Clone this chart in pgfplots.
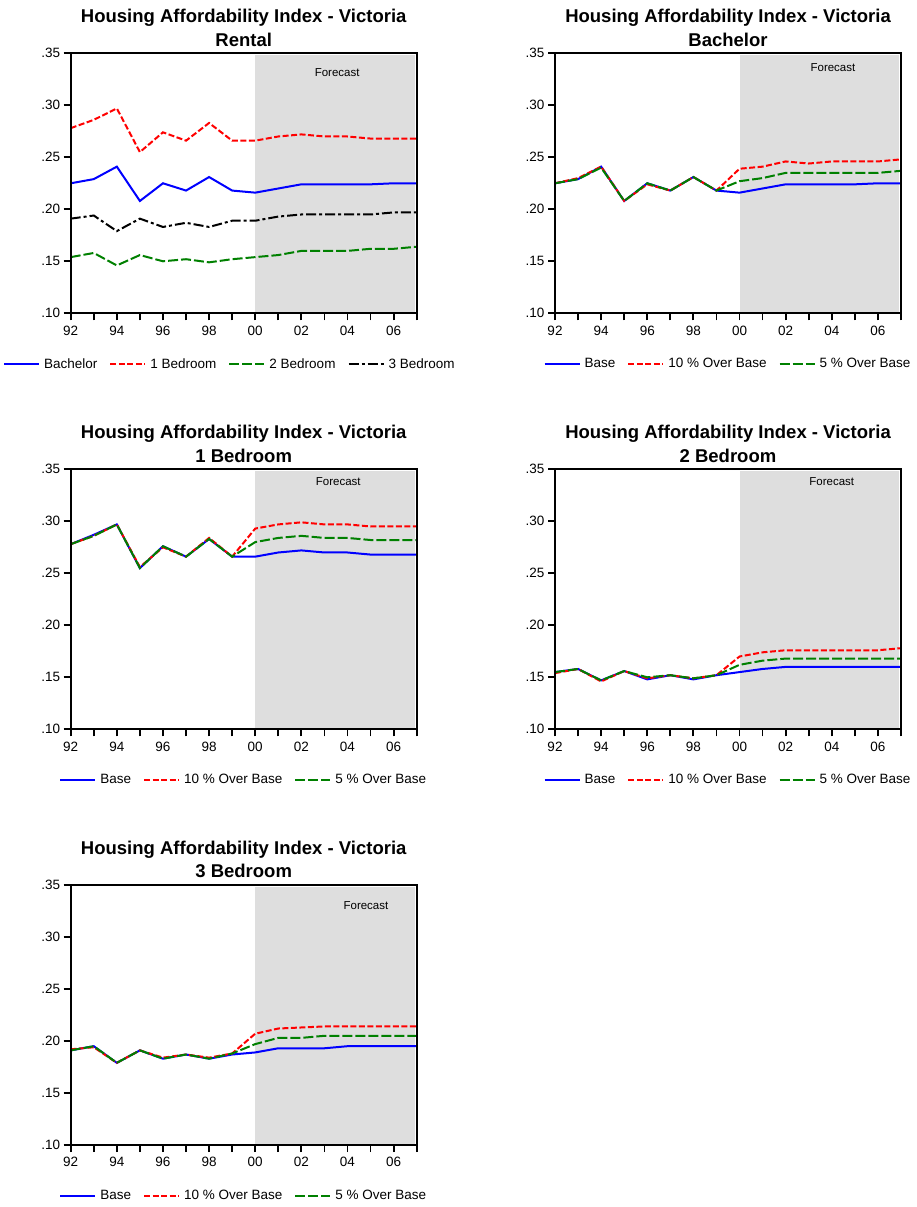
\documentclass[border=0pt]{standalone}
\usepackage{fontspec}
\setmainfont{Liberation Sans}
\usepackage{pgfplots}
\pgfplotsset{compat=1.18}

\definecolor{fcgray}{RGB}{222,222,222}
\definecolor{eblue}{RGB}{0,0,255}
\definecolor{ered}{RGB}{255,0,0}
\definecolor{egreen}{RGB}{0,128,0}

\pgfplotsset{
  hai/.style={
    scale only axis, width=346pt, height=260pt,
    xmin=1992, xmax=2007, ymin=0.10, ymax=0.35,
    xtick={1992,...,2007},
    xticklabels={92,,94,,96,,98,,00,,02,,04,,06,},
    ytick={0.10,0.15,0.20,0.25,0.30,0.35},
    yticklabels={.10,.15,.20,.25,.30,.35},
    xtick pos=bottom, ytick pos=left, tick align=outside,
    major tick length=7pt,
    axis line style={line width=2.4pt},
    every tick/.style={black, line width=1.8pt},
    xticklabel style={yshift=-2pt},
    tick label style={font=\fontsize{13.5}{16}\selectfont},
    title style={font=\bfseries\fontsize{18.5}{23.5}\selectfont, align=center,
      anchor=south, at={(0.5,1)}, inner sep=0pt, text depth=0pt, yshift=1pt},
    legend style={draw=none, fill=none, font=\fontsize{13.5}{16}\selectfont,
      anchor=center, at={(0.5,-0.195)},
      /tikz/every odd column/.append style={column sep=2pt},
      /tikz/every even column/.append style={column sep=10pt}},
    legend columns=-1,
    legend image code/.code={\draw[##1] (0pt,0pt) -- (35pt,0pt);},
    axis on top,
  },
  sbase/.style={eblue, line width=2pt},
  sten/.style={ered, line width=2pt, dash pattern=on 6pt off 2.5pt},
  sfive/.style={egreen, line width=2pt, dash pattern=on 10pt off 3pt},
  sthree/.style={black, line width=2pt, dash pattern=on 10pt off 3pt on 3pt off 3pt},
}

\newcommand{\forecastarea}{\fill[fcgray] (axis cs:2000,0.1) rectangle (axis cs:2006.93,0.3485);}
\newcommand{\forecastlabel}[2]{\node[font=\fontsize{11.5}{13}\selectfont] at (axis cs:#1,#2) {Forecast};}

\begin{document}
\begin{tikzpicture}
\path (0,0) rectangle (916pt,1207pt);

% Rental overview
\begin{axis}[hai, at={(70.7pt,893.7pt)}, anchor=south west,
  title={Housing Affordability Index - Victoria\\Rental},
  legend style={at={(0.46,-0.195)}}]
\forecastarea
\addplot[sbase] coordinates {(1992,.225)(1993,.229)(1994,.241)(1995,.208)(1996,.225)(1997,.218)(1998,.231)(1999,.218)(2000,.216)(2001,.220)(2002,.224)(2003,.224)(2004,.224)(2005,.224)(2006,.225)(2007,.225)};
\addplot[sten] coordinates {(1992,.278)(1993,.286)(1994,.297)(1995,.255)(1996,.274)(1997,.266)(1998,.283)(1999,.266)(2000,.266)(2001,.270)(2002,.272)(2003,.270)(2004,.270)(2005,.268)(2006,.268)(2007,.268)};
\addplot[sfive] coordinates {(1992,.154)(1993,.158)(1994,.146)(1995,.156)(1996,.150)(1997,.152)(1998,.149)(1999,.152)(2000,.154)(2001,.156)(2002,.160)(2003,.160)(2004,.160)(2005,.162)(2006,.162)(2007,.164)};
\addplot[sthree] coordinates {(1992,.191)(1993,.194)(1994,.179)(1995,.191)(1996,.183)(1997,.187)(1998,.183)(1999,.189)(2000,.189)(2001,.193)(2002,.195)(2003,.195)(2004,.195)(2005,.195)(2006,.197)(2007,.197)};
\forecastlabel{2003.55}{0.331}
\legend{Bachelor,1 Bedroom,2 Bedroom,3 Bedroom}
\end{axis}

% Bachelor
\begin{axis}[hai, at={(555pt,893.7pt)}, anchor=south west,
  title={Housing Affordability Index - Victoria\\Bachelor}]
\forecastarea
\addplot[sbase] coordinates {(1992,.225)(1993,.229)(1994,.241)(1995,.208)(1996,.225)(1997,.218)(1998,.231)(1999,.218)(2000,.216)(2001,.220)(2002,.224)(2003,.224)(2004,.224)(2005,.224)(2006,.225)(2007,.225)};
\addplot[sten] coordinates {(1992,.225)(1993,.230)(1994,.241)(1995,.208)(1996,.224)(1997,.218)(1998,.231)(1999,.218)(2000,.239)(2001,.241)(2002,.246)(2003,.244)(2004,.246)(2005,.246)(2006,.246)(2007,.248)};
\addplot[sfive] coordinates {(1992,.225)(1993,.229)(1994,.240)(1995,.208)(1996,.225)(1997,.218)(1998,.231)(1999,.218)(2000,.227)(2001,.230)(2002,.235)(2003,.235)(2004,.235)(2005,.235)(2006,.235)(2007,.237)};
\forecastlabel{2004.05}{0.3366}
\legend{Base,10 \% Over Base,5 \% Over Base}
\end{axis}

% 1 Bedroom
\begin{axis}[hai, at={(70.7pt,477.7pt)}, anchor=south west,
  title={Housing Affordability Index - Victoria\\1 Bedroom}]
\forecastarea
\addplot[sbase] coordinates {(1992,.278)(1993,.287)(1994,.297)(1995,.255)(1996,.276)(1997,.266)(1998,.283)(1999,.266)(2000,.266)(2001,.270)(2002,.272)(2003,.270)(2004,.270)(2005,.268)(2006,.268)(2007,.268)};
\addplot[sten] coordinates {(1992,.278)(1993,.286)(1994,.297)(1995,.256)(1996,.275)(1997,.266)(1998,.284)(1999,.266)(2000,.293)(2001,.297)(2002,.299)(2003,.297)(2004,.297)(2005,.295)(2006,.295)(2007,.295)};
\addplot[sfive] coordinates {(1992,.278)(1993,.286)(1994,.297)(1995,.255)(1996,.276)(1997,.266)(1998,.283)(1999,.266)(2000,.280)(2001,.284)(2002,.286)(2003,.284)(2004,.284)(2005,.282)(2006,.282)(2007,.282)};
\forecastlabel{2003.6}{0.3378}
\legend{Base,10 \% Over Base,5 \% Over Base}
\end{axis}

% 2 Bedroom
\begin{axis}[hai, at={(555pt,477.7pt)}, anchor=south west,
  title={Housing Affordability Index - Victoria\\2 Bedroom}]
\forecastarea
\addplot[sbase] coordinates {(1992,.155)(1993,.158)(1994,.147)(1995,.156)(1996,.148)(1997,.152)(1998,.148)(1999,.152)(2000,.155)(2001,.158)(2002,.160)(2003,.160)(2004,.160)(2005,.160)(2006,.160)(2007,.160)};
\addplot[sten] coordinates {(1992,.154)(1993,.158)(1994,.146)(1995,.156)(1996,.149)(1997,.152)(1998,.149)(1999,.152)(2000,.170)(2001,.174)(2002,.176)(2003,.176)(2004,.176)(2005,.176)(2006,.176)(2007,.178)};
\addplot[sfive] coordinates {(1992,.155)(1993,.158)(1994,.147)(1995,.156)(1996,.150)(1997,.152)(1998,.149)(1999,.152)(2000,.162)(2001,.166)(2002,.168)(2003,.168)(2004,.168)(2005,.168)(2006,.168)(2007,.168)};
\forecastlabel{2004.0}{0.3378}
\legend{Base,10 \% Over Base,5 \% Over Base}
\end{axis}

% 3 Bedroom
\begin{axis}[hai, at={(70.7pt,62pt)}, anchor=south west,
  title={Housing Affordability Index - Victoria\\3 Bedroom}]
\forecastarea
\addplot[sbase] coordinates {(1992,.191)(1993,.195)(1994,.179)(1995,.191)(1996,.183)(1997,.187)(1998,.183)(1999,.187)(2000,.189)(2001,.193)(2002,.193)(2003,.193)(2004,.195)(2005,.195)(2006,.195)(2007,.195)};
\addplot[sten] coordinates {(1992,.192)(1993,.194)(1994,.179)(1995,.191)(1996,.184)(1997,.187)(1998,.184)(1999,.188)(2000,.207)(2001,.212)(2002,.213)(2003,.214)(2004,.214)(2005,.214)(2006,.214)(2007,.214)};
\addplot[sfive] coordinates {(1992,.191)(1993,.195)(1994,.179)(1995,.191)(1996,.183)(1997,.187)(1998,.183)(1999,.188)(2000,.197)(2001,.203)(2002,.203)(2003,.205)(2004,.205)(2005,.205)(2006,.205)(2007,.205)};
\forecastlabel{2004.8}{0.330}
\legend{Base,10 \% Over Base,5 \% Over Base}
\end{axis}
\end{tikzpicture}
\end{document}
